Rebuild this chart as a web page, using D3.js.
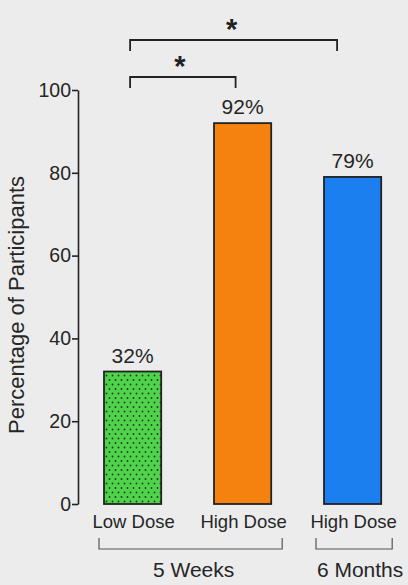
<!DOCTYPE html>
<html>
<head>
<meta charset="utf-8">
<script src="https://cdn.jsdelivr.net/npm/d3@7"></script>
<style>
  body { margin: 0; background: #ececec; }
  svg { display: block; font-family: "Liberation Sans", Arial, sans-serif; }
</style>
</head>
<body>
<div id="chart"></div>
<script>
// data
var categories = ["Low Dose", "High Dose", "High Dose"];
var values = [32, 92, 79];
var valueLabels = ["32%", "92%", "79%"];
var barColors = ["#4fd34b", "#f5820f", "#1b7ff0"];
var yTicks = [0, 20, 40, 60, 80, 100];
var groups = [{name: "5 Weeks", from: 0, to: 1}, {name: "6 Months", from: 2, to: 2}];
var sigPairs = [{a: 0, b: 2, label: "*"}, {a: 0, b: 1, label: "*"}];

var width = 408, height = 585;
var textColor = "#262626";

var svg = d3.select("#chart").append("svg")
    .attr("width", width)
    .attr("height", height);

svg.append("rect").attr("width", width).attr("height", height).attr("fill", "#ececec");

// dotted fill for the low dose bar
var defs = svg.append("defs");
var pat = defs.append("pattern")
    .attr("id", "dots")
    .attr("patternUnits", "userSpaceOnUse")
    .attr("width", 6).attr("height", 9);
pat.append("rect").attr("width", 6).attr("height", 9).attr("fill", barColors[0]);
pat.append("circle").attr("cx", 1.5).attr("cy", 2).attr("r", 0.9).attr("fill", "#1a3a1a");
pat.append("circle").attr("cx", 4.5).attr("cy", 6.5).attr("r", 0.9).attr("fill", "#1a3a1a");

// scales
var x = d3.scaleBand()
    .domain(d3.range(categories.length))
    .range([51.2, 434])
    .paddingInner(0.48)
    .paddingOuter(0.48);

var y = d3.scaleLinear()
    .domain([0, 100])
    .range([504, 90]);

var cx = function(i) { return x(i) + x.bandwidth() / 2; };

// y axis
var yAxis = d3.axisLeft(y)
    .tickValues(yTicks)
    .tickSize(6)
    .tickPadding(1)
    .tickSizeOuter(0);

var gy = svg.append("g")
    .attr("transform", "translate(78,0)")
    .call(yAxis);
gy.select(".domain").attr("stroke", "#222").attr("stroke-width", 1.6);
gy.selectAll(".tick line").attr("stroke", "#222").attr("stroke-width", 1.6);
gy.selectAll(".tick text")
    .attr("font-size", 19.5)
    .attr("fill", textColor)
    .attr("font-family", "Liberation Sans, Arial, sans-serif");

svg.append("text")
    .attr("transform", "translate(24,305) rotate(-90)")
    .attr("text-anchor", "middle")
    .attr("font-size", 22)
    .attr("fill", textColor)
    .text("Percentage of Participants");

// bars
svg.selectAll(".bar")
    .data(values)
    .enter().append("rect")
    .attr("class", "bar")
    .attr("x", function(d, i) { return x(i); })
    .attr("y", function(d) { return y(d); })
    .attr("width", x.bandwidth())
    .attr("height", function(d) { return y(0) - y(d); })
    .attr("fill", function(d, i) { return i === 0 ? "url(#dots)" : barColors[i]; })
    .attr("stroke", "#222")
    .attr("stroke-width", 1.8);

// value labels
svg.selectAll(".val")
    .data(values)
    .enter().append("text")
    .attr("class", "val")
    .attr("x", function(d, i) { return cx(i); })
    .attr("y", function(d) { return y(d) - 9; })
    .attr("text-anchor", "middle")
    .attr("font-size", 21)
    .attr("fill", textColor)
    .text(function(d, i) { return valueLabels[i]; });

// category labels
svg.selectAll(".cat")
    .data(categories)
    .enter().append("text")
    .attr("class", "cat")
    .attr("x", function(d, i) { return cx(i) + 1; })
    .attr("y", 528)
    .attr("text-anchor", "middle")
    .attr("font-size", 18.5)
    .attr("fill", textColor)
    .text(function(d) { return d; });

// group brackets below
groups.forEach(function(g, k) {
    var x0 = x(g.from) - (k === 0 ? 5 : 8);
    var x1 = x(g.to) + x.bandwidth() + 11;
    svg.append("path")
        .attr("d", "M" + x0 + ",538 V549 H" + x1 + " V538")
        .attr("fill", "none")
        .attr("stroke", "#555")
        .attr("stroke-width", 1.2);
    svg.append("text")
        .attr("x", (x0 + x1) / 2 + (k === 1 ? 6 : 3))
        .attr("y", 577)
        .attr("text-anchor", "middle")
        .attr("font-size", 21)
        .attr("fill", textColor)
        .text(g.name);
});

// significance brackets
var sigY = [40, 77];
sigPairs.forEach(function(p, k) {
    var xa = cx(p.a) - 2.5;
    var xb = k === 0 ? cx(p.b) - 15.5 : cx(p.b) - 7;
    var yy = sigY[k];
    svg.append("path")
        .attr("d", "M" + xa + "," + (yy + 11) + " V" + yy + " H" + xb + " V" + (yy + 11))
        .attr("fill", "none")
        .attr("stroke", "#222")
        .attr("stroke-width", 1.8);
    svg.append("text")
        .attr("x", k === 0 ? (xa + xb) / 2 - 2 : (xa + xb) / 2 - 3)
        .attr("y", yy - 1)
        .attr("text-anchor", "middle")
        .attr("font-size", 29)
        .attr("font-weight", "bold")
        .attr("fill", "#222")
        .text(p.label);
});
</script>
</body>
</html>
